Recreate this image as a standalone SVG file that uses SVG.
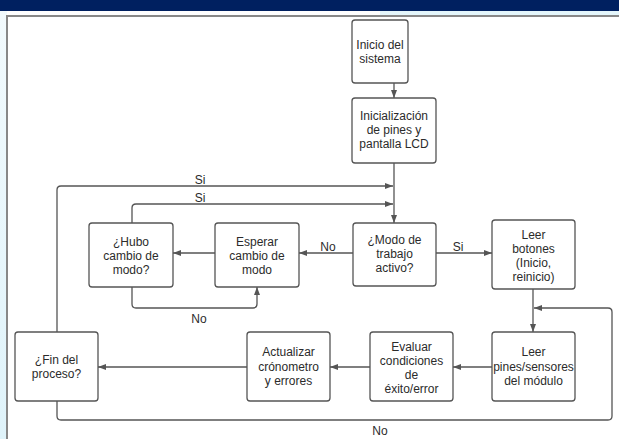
<svg xmlns="http://www.w3.org/2000/svg" width="619" height="439" viewBox="0 0 619 439">
<defs>
<marker id="ah" viewBox="0 0 8 6" refX="8" refY="3" markerWidth="8" markerHeight="6" markerUnits="userSpaceOnUse" orient="auto">
<path d="M0,0 L8,3 L0,6 Z" fill="#555"/>
</marker>
<linearGradient id="lg" x1="0" y1="0" x2="0" y2="1">
<stop offset="0" stop-color="#f2fafd"/>
<stop offset="1" stop-color="#dff3fa"/>
</linearGradient>
</defs>
<style>
.box{fill:#fff;stroke:#555;stroke-width:1.3}
.t{font-family:"Liberation Sans",Arial,sans-serif;font-size:12px;fill:#2b2b2b;text-anchor:middle}
.c{fill:none;stroke:#555;stroke-width:1.3}
</style>
<rect x="0" y="0" width="619" height="439" fill="#fff"/>
<rect x="0" y="11" width="7" height="428" fill="url(#lg)"/>
<rect x="380" y="11" width="239" height="4" fill="#e4f6fb"/>
<rect x="0" y="0" width="619" height="11" fill="#002060"/>
<path d="M7,439 V16 H619" fill="none" stroke="#888" stroke-width="2"/>

<g id="connectors">
<path class="c" d="M394,83 V98" marker-end="url(#ah)"/>
<path class="c" d="M394,163 V223" marker-end="url(#ah)"/>
<path class="c" d="M57,332 V190 Q57,186 61,186 H393" marker-end="url(#ah)"/>
<path class="c" d="M132,223 V208 Q132,204 136,204 H393" marker-end="url(#ah)"/>
<path class="c" d="M353,253 H299" marker-end="url(#ah)"/>
<path class="c" d="M215,253 H173" marker-end="url(#ah)"/>
<path class="c" d="M132,287 V304 Q132,308 136,308 H253 Q257,308 257,304 V287" marker-end="url(#ah)"/>
<path class="c" d="M436,253 H492" marker-end="url(#ah)"/>
<path class="c" d="M533,289 V332" marker-end="url(#ah)"/>
<path class="c" d="M57,401 V416 Q57,420 61,420 H608 Q612,420 612,416 V312 Q612,308 608,308 H534" marker-end="url(#ah)"/>
<path class="c" d="M492,367 H453" marker-end="url(#ah)"/>
<path class="c" d="M370,367 H330" marker-end="url(#ah)"/>
<path class="c" d="M247,367 H98" marker-end="url(#ah)"/>
<text class="t" x="200" y="184">Si</text>
<text class="t" x="200" y="202">Si</text>
<text class="t" x="328" y="251">No</text>
<text class="t" x="458" y="251">Si</text>
<text class="t" x="199" y="323">No</text>
<text class="t" x="380" y="435">No</text>
</g>

<g id="inicio">
<rect class="box" x="352" y="20" width="56" height="63" rx="3"/>
<text class="t" x="380" y="49">Inicio del</text>
<text class="t" x="380" y="63">sistema</text>
</g>
<g id="inicializacion">
<rect class="box" x="352" y="98" width="84" height="65" rx="3"/>
<text class="t" x="394" y="120">Inicialización</text>
<text class="t" x="394" y="134">de pines y</text>
<text class="t" x="394" y="148">pantalla LCD</text>
</g>
<g id="modo">
<rect class="box" x="353" y="223" width="83" height="63" rx="3"/>
<text class="t" x="394.5" y="244">¿Modo de</text>
<text class="t" x="394.5" y="258">trabajo</text>
<text class="t" x="394.5" y="272">activo?</text>
</g>
<g id="esperar">
<rect class="box" x="215" y="223" width="84" height="64" rx="3"/>
<text class="t" x="257" y="246">Esperar</text>
<text class="t" x="257" y="260">cambio de</text>
<text class="t" x="257" y="274">modo</text>
</g>
<g id="hubo">
<rect class="box" x="89" y="223" width="84" height="64" rx="3"/>
<text class="t" x="131" y="246">¿Hubo</text>
<text class="t" x="131" y="260">cambio de</text>
<text class="t" x="131" y="274">modo?</text>
</g>
<g id="leer-botones">
<rect class="box" x="492" y="220" width="83" height="69" rx="3"/>
<text class="t" x="533.5" y="239">Leer</text>
<text class="t" x="533.5" y="253">botones</text>
<text class="t" x="533.5" y="267">(Inicio,</text>
<text class="t" x="533.5" y="281">reinicio)</text>
</g>
<g id="leer-pines">
<rect class="box" x="492" y="332" width="83" height="69" rx="3"/>
<text class="t" x="533.5" y="356">Leer</text>
<text class="t" x="533.5" y="371">pines/sensores</text>
<text class="t" x="533.5" y="385">del módulo</text>
</g>
<g id="evaluar">
<rect class="box" x="370" y="332" width="83" height="69" rx="3"/>
<text class="t" x="411.5" y="351">Evaluar</text>
<text class="t" x="411.5" y="365">condiciones</text>
<text class="t" x="411.5" y="379">de</text>
<text class="t" x="411.5" y="393">éxito/error</text>
</g>
<g id="actualizar">
<rect class="box" x="247" y="332" width="83" height="69" rx="3"/>
<text class="t" x="288.5" y="356">Actualizar</text>
<text class="t" x="288.5" y="371">crónometro</text>
<text class="t" x="288.5" y="385">y errores</text>
</g>
<g id="fin">
<rect class="box" x="15" y="332" width="83" height="69" rx="3"/>
<text class="t" x="56.5" y="364">¿Fin del</text>
<text class="t" x="56.5" y="378">proceso?</text>
</g>
</svg>
